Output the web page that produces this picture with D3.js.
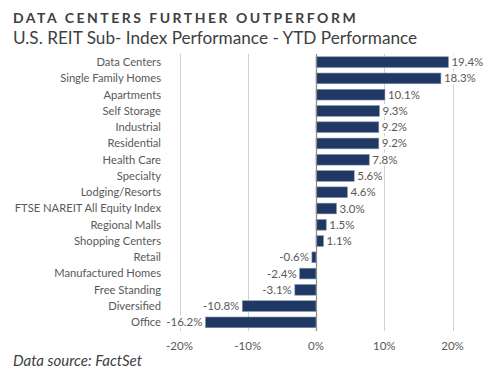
<!DOCTYPE html>
<html>
<head>
<meta charset="utf-8">
<script src="https://cdn.jsdelivr.net/npm/d3@7"></script>
<style>
body{margin:0;background:#fff;}
svg{display:block;font-family:Lato,"Open Sans",sans-serif;}
.title{font-weight:bold;fill:#404040;}
.label{fill:#595959;}
</style>
</head>
<body>
<svg id="chart"></svg>
<script>
var categories=["Data Centers","Single Family Homes","Apartments","Self Storage","Industrial",
    "Residential","Health Care","Specialty","Lodging/Resorts","FTSE NAREIT All Equity Index",
    "Regional Malls","Shopping Centers","Retail","Manufactured Homes","Free Standing",
    "Diversified","Office"]
var values=[19.4,18.3,10.1,9.3,9.2,9.2,7.8,5.6,4.6,3.0,1.5,1.1,-0.6,-2.4,-3.1,-10.8,-16.2]
var ticks=[-20,-10,0,10,20]

var screen={width:494,height:375}

var svg=d3.select("#chart")
    .attr("width",screen.width)
    .attr("height",screen.height)

var xScale=d3.scaleLinear()
    .domain([-20,20])
    .range([179.5,452.5])
var yScale=d3.scaleBand()
    .domain(categories)
    .range([54,330.5])
    .paddingInner(0.34)
    .paddingOuter(0.17)

// gridlines
svg.append("g")
    .selectAll("line")
    .data(ticks.filter(function(t){return t!=0}))
    .enter()
    .append("line")
    .attr("x1",function(t){return Math.round(xScale(t))+0.5})
    .attr("x2",function(t){return Math.round(xScale(t))+0.5})
    .attr("y1",54)
    .attr("y2",331)
    .attr("stroke","#d0d0d0")
    .attr("stroke-width",1)

svg.append("g")
    .selectAll("rect")
    .data(values)
    .enter()
    .append("rect")
    .attr("x",function(v){return xScale(Math.min(0,v))})
    .attr("y",function(v,i){return yScale(categories[i])})
    .attr("width",function(v){return Math.abs(xScale(v)-xScale(0))})
    .attr("height",yScale.bandwidth())
    .attr("fill","#1f3864")
    .attr("stroke","#8497b0")
    .attr("stroke-width",0.6)

// zero line
svg.append("line")
    .attr("x1",Math.round(xScale(0))+0.5)
    .attr("x2",Math.round(xScale(0))+0.5)
    .attr("y1",54)
    .attr("y2",331)
    .attr("stroke","#8c8c8c")
    .attr("stroke-width",1.2)

// value labels, white box behind so gridlines stop at the text
var valueLabels=svg.append("g")
    .selectAll("g")
    .data(values)
    .enter()
    .append("g")
valueLabels.append("text")
    .classed("label",true)
    .attr("x",function(v){return v>=0?xScale(v)+3:xScale(v)-3})
    .attr("y",function(v,i){return yScale(categories[i])+yScale.bandwidth()/2})
    .attr("dy","0.35em")
    .attr("text-anchor",function(v){return v>=0?"start":"end"})
    .attr("font-size",11.5)
    .text(function(v){return v.toFixed(1)+"%"})
valueLabels.each(function()
    {
        var g=d3.select(this)
        var box=g.select("text").node().getBBox()
        g.insert("rect","text")
            .attr("x",box.x-1)
            .attr("y",box.y)
            .attr("width",box.width+2)
            .attr("height",box.height)
            .attr("fill","#fff")
    })

// category labels
svg.append("g")
    .selectAll("text")
    .data(categories)
    .enter()
    .append("text")
    .classed("label",true)
    .attr("x",161)
    .attr("y",function(c){return yScale(c)+yScale.bandwidth()/2})
    .attr("dy","0.35em")
    .attr("text-anchor","end")
    .attr("font-size",11.2)
    .text(function(c){return c})

// x axis tick labels
svg.append("g")
    .selectAll("text")
    .data(ticks)
    .enter()
    .append("text")
    .classed("label",true)
    .attr("x",function(t){return xScale(t)})
    .attr("y",346)
    .attr("dy","0.35em")
    .attr("text-anchor","middle")
    .attr("font-size",11.5)
    .text(function(t){return t+"%"})

svg.append("text")
    .classed("title",true)
    .attr("x",13)
    .attr("y",23)
    .attr("font-size",14)
    .attr("letter-spacing",2.5)
    .text("DATA CENTERS FURTHER OUTPERFORM")
svg.append("text")
    .attr("x",13)
    .attr("y",44)
    .attr("font-size",17.2)
    .attr("fill","#404040")
    .text("U.S. REIT Sub- Index Performance - YTD Performance")
svg.append("text")
    .attr("x",13)
    .attr("y",366)
    .attr("font-size",15)
    .attr("font-style","italic")
    .attr("fill","#404040")
    .text("Data source: FactSet")
</script>
</body>
</html>
